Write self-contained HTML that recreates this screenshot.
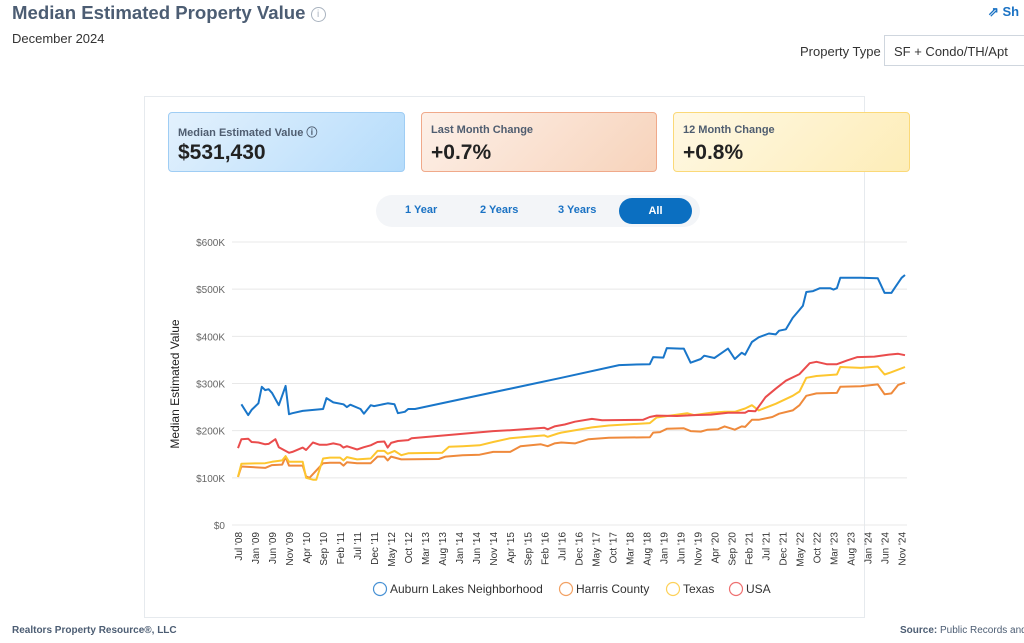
<!DOCTYPE html>
<html><head><meta charset="utf-8"><style>
body{margin:0;width:1024px;height:643px;overflow:hidden;background:#fff;font-family:"Liberation Sans",sans-serif;position:relative;color:#333}
.abs{position:absolute}
.card{position:absolute;top:112px;height:60px;border-radius:4px;box-sizing:border-box}
.card .l{position:absolute;left:9px;top:11px;font-size:11px;font-weight:bold;color:#4f5d70}
.card .v{position:absolute;left:9px;top:28px;font-size:21px;font-weight:bold;color:#222}
.tg{position:absolute;top:204px;font-size:11px;font-weight:bold;color:#1a72c4}
</style></head><body>
<div class="abs" style="left:12px;top:2px;font-size:18.6px;font-weight:bold;color:#4c5d73">Median Estimated Property Value <span style="display:inline-block;width:13px;height:13px;border:1px solid #a9b3bf;border-radius:50%;font-size:10px;color:#a9b3bf;text-align:center;line-height:13px;vertical-align:2px;font-weight:normal">i</span></div>
<div class="abs" style="left:12px;top:31px;font-size:13px;color:#333">December 2024</div>
<div class="abs" style="left:988px;top:4px;font-size:13px;font-weight:bold;color:#1a72c4">⇗ Sh</div>
<div class="abs" style="left:800px;top:44px;font-size:13px;color:#333">Property Type</div>
<div class="abs" style="left:884px;top:35px;width:150px;height:31px;border:1px solid #cfd6de;box-sizing:border-box;font-size:13px;padding:8px 0 0 9px;color:#333">SF + Condo/TH/Apt</div>
<div class="abs" style="left:144px;top:96px;width:721px;height:522px;border:1px solid #e6eaee;box-sizing:border-box"></div>
<div class="card" style="left:168px;width:237px;background:linear-gradient(135deg,#e3f1fd,#b5dcfb);border:1px solid #9fcdf4"><div class="l">Median Estimated Value ⓘ</div><div class="v">$531,430</div></div>
<div class="card" style="left:421px;width:236px;background:linear-gradient(135deg,#fdf0e8,#f7d3bb);border:1px solid #f0a98a"><div class="l">Last Month Change</div><div class="v">+0.7%</div></div>
<div class="card" style="left:673px;width:237px;background:linear-gradient(135deg,#fff8e4,#fdedb8);border:1px solid #fbd978"><div class="l">12 Month Change</div><div class="v">+0.8%</div></div>
<div class="abs" style="left:376px;top:195px;width:324px;height:32px;background:#f3f5f8;border-radius:16px"></div>
<div class="tg" style="left:405px">1 Year</div>
<div class="tg" style="left:480px">2 Years</div>
<div class="tg" style="left:558px">3 Years</div>
<div class="abs" style="left:619px;top:198px;width:73px;height:26px;background:#0b6fc1;border-radius:13px;color:#fff;font-size:11px;font-weight:bold;text-align:center;line-height:26px">All</div>
<svg id="ch" class="abs" style="left:0;top:0" width="1024" height="643"></svg>
<div class="abs" style="left:12px;top:625px;font-size:10px;font-weight:bold;color:#4c5d73">Realtors Property Resource®, LLC</div>
<div class="abs" style="left:900px;top:625px;font-size:10px;color:#4c5d73;white-space:nowrap"><b>Source:</b> Public Records and</div>
<script>
const yTicks=[0,100,200,300,400,500,600];
const xTickLabels=["Jul '08","Jan '09","Jun '09","Nov '09","Apr '10","Sep '10","Feb '11","Jul '11","Dec '11","May '12","Oct '12","Mar '13","Aug '13","Jan '14","Jun '14","Nov '14","Apr '15","Sep '15","Feb '16","Jul '16","Dec '16","May '17","Oct '17","Mar '18","Aug '18","Jan '19","Jun '19","Nov '19","Apr '20","Sep '20","Feb '21","Jul '21","Dec '21","May '22","Oct '22","Mar '23","Aug '23","Jan '24","Jun '24","Nov '24"];
const seriesNames=["Auburn Lakes Neighborhood","Harris County","Texas","USA"];
const auburnMonths=[1,3,4,6,7,8,9,10,12,14,15,16,19,25,26,28,31,32,33,36,37,39,40,44,46,47,49,50,52,95,112,116,121,122,125,126,130,131,133,136,137,140,142,144,146,148,149,151,153,156,158,159,161,163,165,166,167,169,171,174,175,176,177,180,183,188,190,192,193,195,196];
const auburnValues=[256,233,244,258,293,286,288,280,254,295,235,237,242,246,269,260,256,250,255,246,236,254,252,258,256,237,240,246,246,312,339,340,341,356,355,375,374,374,344,352,359,354,364,374,352,365,361,388,398,406,404,412,415,439,456,465,494,496,502,502,499,502,524,524,524,523,492,492,503,524,530];
const harrisMonths=[0,1,8,10,13,14,15,19,20,21,25,27,30,31,32,35,39,41,43,44,45,48,59,61,66,71,75,80,83,89,91,93,95,99,103,109,121,122,124,126,131,133,136,138,141,143,146,148,149,151,153,157,159,163,165,167,170,176,177,183,188,190,192,194,196];
const harrisValues=[102,124,121,127,128,144,126,126,103,100,131,132,132,126,133,131,131,145,145,137,145,139,140,145,148,149,155,155,167,171,167,173,175,173,182,185,186,196,197,204,205,199,198,202,203,209,202,209,208,223,223,229,236,243,254,274,279,280,293,294,298,277,279,297,302];
const texasMonths=[0,1,8,10,12,13,14,15,19,20,22,23,25,27,30,31,32,35,39,41,43,44,46,48,50,60,62,66,71,75,80,85,90,91,94,95,104,109,121,123,127,132,134,139,143,146,149,151,153,158,163,165,167,170,176,177,183,188,190,192,196];
const texasValues=[102,130,131,134,136,137,146,134,134,100,96,96,141,143,143,137,144,139,141,157,157,151,157,148,152,153,166,167,169,176,184,187,190,187,194,196,207,211,216,228,232,237,233,238,240,240,247,254,243,257,274,283,312,316,319,335,333,336,319,324,335];
const usaMonths=[0,1,3,4,6,8,9,11,12,15,16,19,20,22,24,26,28,30,31,32,35,37,39,41,43,44,45,47,50,51,75,80,90,91,93,96,99,104,107,119,121,123,129,134,139,144,149,150,152,155,158,161,165,168,170,173,176,179,182,187,191,194,196];
const usaValues=[163,182,183,176,175,171,172,182,165,153,155,164,159,175,170,170,173,170,164,167,160,165,169,176,177,164,174,178,180,184,199,201,206,203,209,213,219,225,222,223,229,232,231,233,234,238,238,242,241,271,289,306,320,343,346,341,341,349,356,357,361,363,360];
const colors=["#1976c9","#ef8a3c","#fdc62f","#ea4c4c"];
const NS="http://www.w3.org/2000/svg",svg=document.getElementById("ch");
const X0=238,X1=905,M=196,Y0=525,Y1=242,VMAX=600;
const xs=m=>X0+(X1-X0)*m/M, ys=v=>Y0-(Y0-Y1)*v/VMAX;
function mk(t,a){const e=document.createElementNS(NS,t);for(const k in a)e.setAttribute(k,a[k]);svg.appendChild(e);return e;}
yTicks.forEach(v=>{
 const g=mk("line",{x1:232,x2:907,y1:ys(v),y2:ys(v),stroke:"#e8e8e8","stroke-width":1});
 
 
 const t=mk("text",{x:225,y:ys(v)+4,"text-anchor":"end","font-size":10,fill:"#666","font-family":"Liberation Sans"});
 t.textContent=v===0?"$0":"$"+v+"K";
 
 
});
xTickLabels.forEach((s,i)=>{
 const x=xs(i*5);
 const t=mk("text",{x:0,y:0,transform:`translate(${x+4},532) rotate(-90)`,"text-anchor":"end","font-size":10,fill:"#333","font-family":"Liberation Sans"});
 t.textContent=s;
 
 
});
const yt=mk("text",{x:0,y:0,transform:"translate(179,384) rotate(-90)","text-anchor":"middle","font-size":12,fill:"#222","font-family":"Liberation Sans"});
yt.textContent="Median Estimated Value";


const data=[[harrisMonths,harrisValues],[texasMonths,texasValues],[usaMonths,usaValues],[auburnMonths,auburnValues]];
const ci=[1,2,3,0],nm=["harris-county-line","texas-line","usa-line","auburn-lakes-line"];
data.forEach((d,k)=>{
 const p=d[0].map((m,i)=>xs(m).toFixed(1)+","+ys(d[1][i]).toFixed(1)).join(" ");
 const l=mk("polyline",{points:p,fill:"none",stroke:colors[ci[k]],"stroke-width":2,"stroke-linejoin":"round"});
 
 
});
const lx=[373,559,666,729];
seriesNames.forEach((s,i)=>{
 const c=mk("circle",{cx:lx[i]+7,cy:589,r:6.5,fill:"none",stroke:colors[i],"stroke-width":1.2,opacity:0.8});
 
 
 const t=mk("text",{x:lx[i]+17,y:593,"font-size":12,fill:"#333","font-family":"Liberation Sans"});
 t.textContent=s;
 
 
});
</script>
</body></html>
